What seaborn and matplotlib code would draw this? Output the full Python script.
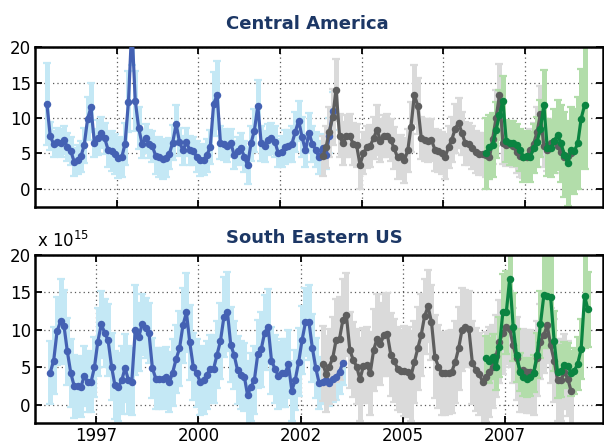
import numpy as np
import pandas as pd
import matplotlib
matplotlib.use("Agg")
import matplotlib.pyplot as plt
import seaborn as sns

# monthly HCHO columns (x 10^15)
ca_gome_start = "1996-04"
ca_gome = [12.0, 7.4, 6.3, 6.6, 6.5, 6.9, 5.9, 5.3, 3.8, 4.1,
           4.6, 6.1, 9.9, 11.5, 6.4, 7.2, 7.9, 7.1, 5.5, 5.3,
           4.9, 4.3, 4.5, 6.3, 12.3, 23.0, 12.4, 8.6, 6.3, 7.1,
           6.3, 6.0, 4.6, 4.5, 4.2, 4.3, 4.9, 6.5, 9.1, 6.6,
           5.4, 6.6, 5.4, 5.3, 4.5, 4.0, 4.1, 4.7, 5.9, 12.0,
           13.2, 6.5, 6.3, 6.0, 6.5, 4.7, 5.3, 5.7, 4.5, 3.3,
           6.4, 8.2, 11.7, 6.4, 6.0, 6.9, 7.1, 6.6, 5.0, 5.2,
           5.9, 6.0, 6.3, 8.0, 9.6, 7.3, 5.4, 7.9, 6.3, 5.5,
           4.4, 5.7, 4.8, 7.5, 11.0]
ca_gome_err = [5.8, 2.0, 1.8, 2.0, 2.0, 2.0, 2.0, 2.0, 2.0, 2.0,
               2.2, 2.5, 3.0, 3.5, 2.0, 2.5, 2.2, 2.2, 2.5, 2.8,
               2.8, 2.8, 2.8, 3.0, 4.3, 5.5, 4.3, 3.0, 2.0, 2.0,
               2.0, 2.2, 2.5, 2.8, 2.8, 2.6, 2.2, 2.5, 2.7, 2.0,
               2.0, 2.0, 2.0, 2.0, 2.2, 2.2, 2.2, 2.3, 2.4, 4.5,
               4.8, 2.3, 2.2, 2.2, 2.0, 2.0, 2.0, 2.2, 2.2, 2.6,
               2.5, 3.0, 3.6, 2.5, 2.2, 2.2, 2.2, 2.2, 2.0, 2.2,
               2.4, 2.3, 2.5, 2.8, 2.8, 2.8, 2.3, 2.8, 2.5, 2.5,
               2.3, 2.0, 2.0, 2.5, 2.7]

ca_scia_start = "2003-01"
ca_scia = [4.6, 5.9, 8.0, 10.1, 14.0, 7.5, 6.4, 7.4, 7.5, 6.3,
           6.1, 3.4, 5.0, 5.9, 6.0, 7.2, 8.3, 6.8, 7.4, 7.5,
           6.9, 5.7, 4.4, 4.6, 4.0, 5.4, 8.7, 13.3, 11.7, 7.2,
           6.9, 6.8, 6.9, 5.5, 5.3, 5.0, 4.5, 5.9, 6.9, 8.5,
           9.3, 7.8, 6.4, 6.3, 5.8, 5.2, 4.9, 4.9, 4.7, 4.4,
           7.0, 10.0, 13.2, 6.5, 6.2, 6.3, 6.0, 5.2, 4.6, 4.5,
           4.5, 5.5, 6.3, 8.0, 10.5, 6.0, 5.5, 6.4, 6.8, 6.0,
           5.2, 4.5, 4.6, 5.0]
ca_scia_err = [2.8, 3.0, 3.5, 4.0, 4.4, 3.0, 3.0, 3.0, 3.0, 3.0,
               3.0, 3.5, 3.0, 3.0, 3.0, 3.0, 3.5, 3.0, 3.0, 3.0,
               3.0, 3.0, 3.0, 3.0, 3.2, 3.0, 3.5, 4.2, 4.0, 3.0,
               3.0, 3.0, 3.0, 3.0, 3.0, 3.0, 3.2, 3.0, 3.2, 3.5,
               3.5, 3.0, 3.0, 3.0, 3.0, 3.0, 3.0, 3.0, 3.0, 3.0,
               3.5, 4.0, 4.5, 3.0, 3.0, 3.0, 3.0, 3.0, 3.0, 3.0,
               3.0, 3.0, 3.0, 3.5, 4.0, 3.0, 3.0, 3.0, 3.0, 3.0,
               3.0, 3.0, 3.0, 3.0]

ca_gome2_start = "2007-01"
ca_gome2 = [5.0, 5.9, 6.2, 8.3, 10.4, 12.4, 6.7, 6.4, 6.5, 6.2,
            5.5, 4.5, 4.6, 4.5, 5.7, 6.6, 8.5, 11.8, 5.8, 5.7,
            6.7, 7.6, 6.4, 4.8, 3.6, 5.5, 5.3, 6.4, 9.9, 11.8]
ca_gome2_err = [5.0, 4.5, 4.5, 4.0, 3.5, 3.5, 3.0, 3.0, 3.0, 3.0,
                3.0, 3.5, 3.5, 3.5, 3.5, 3.5, 4.0, 5.0, 4.0, 4.0,
                4.5, 5.0, 5.5, 6.0, 6.0, 6.0, 6.0, 6.5, 7.0, 9.0]

se_gome_start = "1996-05"
se_gome = [4.3, 5.9, 9.8, 11.1, 10.5, 7.1, 4.2, 2.5, 2.5, 2.4,
           3.8, 3.1, 3.0, 5.0, 8.4, 10.7, 9.6, 8.6, 5.1, 2.6,
           2.4, 3.3, 4.9, 3.3, 3.1, 10.0, 9.0, 10.7, 10.2, 9.6,
           4.9, 3.5, 3.5, 3.5, 3.7, 3.0, 4.3, 6.1, 7.5,
           10.6, 12.3, 8.3, 5.1, 4.2, 3.1, 3.3, 4.0, 4.8, 4.8,
           6.7, 8.5, 11.7, 12.4, 8.0, 6.6, 4.6, 4.0, 3.7, 1.3,
           2.4, 3.3, 6.8, 7.4, 9.6, 10.4, 5.9, 4.8, 3.9, 4.2,
           4.2, 5.4, 1.9, 3.3, 5.7, 8.6, 11.0, 11.0, 7.6,
           4.9, 2.9, 3.1, 3.3, 2.9, 3.4, 3.7, 4.4, 5.6]
se_gome_err = [4.2, 4.5, 4.5, 5.7, 4.8, 4.5, 4.5, 4.2, 4.0, 4.0,
               4.0, 4.0, 4.0, 4.0, 4.5, 4.5, 4.5, 4.8, 4.5, 4.5,
               4.5, 4.5, 4.5, 4.5, 4.5, 6.0, 4.5, 4.0, 4.0, 4.0,
               4.0, 4.0, 4.0, 4.0, 4.0, 4.0, 4.5, 4.5, 5.0,
               5.0, 5.3, 5.0, 4.5, 4.5, 4.5, 4.5, 4.5, 4.5, 4.5,
               4.5, 5.0, 5.3, 5.3, 5.0, 4.5, 4.5, 4.5, 4.5, 4.5,
               4.5, 4.5, 4.5, 5.0, 5.0, 5.0, 4.5, 4.5, 4.5, 4.5,
               4.5, 4.5, 4.0, 4.0, 4.5, 4.5, 4.5, 5.0, 4.5,
               4.0, 3.5, 3.0, 3.0, 3.0, 3.0, 3.0, 3.0, 3.0]

se_scia_start = "2003-01"
se_scia = [5.5, 4.1, 5.1, 6.2, 8.6, 8.8, 11.3, 12.0, 7.3, 6.0,
           5.1, 3.4, 5.2, 5.3, 4.2, 7.3, 8.8, 8.1, 9.3, 9.4,
           6.7, 5.9, 4.8, 4.5, 4.5, 4.4, 3.8, 5.7, 7.5, 9.3,
           11.8, 13.1, 11.0, 6.4, 5.1, 4.2, 4.2, 4.3, 4.4, 5.7,
           7.5, 10.0, 10.3, 10.1, 5.6, 4.7, 4.1, 3.1, 3.7, 4.4,
           5.1, 6.5, 8.4, 9.6, 10.4, 10.1, 7.9, 6.2, 4.5, 4.6,
           4.4, 4.4, 4.2, 6.2, 8.4, 9.3, 10.6, 7.9, 5.9, 3.3,
           3.3, 4.4, 3.5, 1.8]
se_scia_err = [5.0, 5.0, 5.0, 5.5, 5.5, 5.5, 5.5, 5.5, 5.0, 5.0,
               5.0, 5.5, 5.0, 5.0, 5.5, 5.5, 6.0, 5.5, 5.5, 5.5,
               5.5, 5.5, 5.5, 5.5, 6.0, 6.0, 6.0, 5.5, 5.5, 5.5,
               5.0, 4.8, 5.0, 5.5, 5.5, 5.5, 5.5, 5.5, 5.5, 5.5,
               5.5, 5.5, 5.0, 5.0, 5.5, 5.5, 5.5, 6.0, 6.0, 6.0,
               5.5, 5.5, 5.5, 5.5, 5.0, 5.0, 5.0, 5.5, 5.5, 5.5,
               5.5, 5.5, 5.5, 5.0, 5.0, 5.0, 5.0, 5.0, 5.5, 5.5,
               5.5, 5.0, 5.0, 5.0]

se_gome2_start = "2007-01"
se_gome2 = [6.2, 5.9, 6.4, 5.0, 7.7, 12.4, 12.3, 16.8, 10.4, 6.6,
            4.4, 3.7, 3.5, 3.7, 4.2, 6.6, 10.7, 14.6, 14.5, 14.3,
            8.5, 4.4, 4.5, 5.3, 5.2, 4.2, 4.5, 5.5, 7.4, 14.5, 12.7]
se_gome2_err = [3.0, 3.0, 3.0, 3.0, 4.0, 5.0, 5.5, 6.0, 4.5, 3.5,
                2.5, 2.5, 2.5, 2.5, 2.5, 3.0, 4.5, 7.0, 7.0, 6.5,
                4.0, 3.5, 3.5, 3.0, 3.0, 3.0, 3.0, 3.5, 4.0, 7.0, 5.0]

titles = ["Central America", "South Eastern US"]
xtick_top = [1998, 2000, 2002, 2004, 2006, 2008]
xtick_bottom = [1997.5, 2000, 2002.5, 2005, 2007.5]
xtick_bottom_labels = ["1997", "2000", "2002", "2005", "2007"]

colors = {
    "gome": ("#4461b3", "#c4e8f5"),
    "scia": ("#5e5e5e", "#dadada"),
    "gome2": ("#0b8441", "#b2ddaa"),
}


def decimal_years(start, n):
    dates = pd.date_range(start, periods=n, freq="MS") + pd.Timedelta(days=15)
    return dates.year + (dates.dayofyear - 1) / 365.25


sns.set_style("ticks")
plt.rcParams["font.family"] = ["DejaVu Sans"]
plt.rcParams["axes.edgecolor"] = "black"
plt.rcParams["xtick.color"] = "black"
plt.rcParams["ytick.color"] = "black"
plt.rcParams["text.color"] = "black"

fig = plt.figure(figsize=(6.04, 4.46), dpi=100)
ax_top = fig.add_axes([0.058, 0.536, 0.94, 0.358])
ax_bot = fig.add_axes([0.058, 0.052, 0.94, 0.377])

panels = [
    (ax_top, [("gome", ca_gome_start, ca_gome, ca_gome_err),
              ("scia", ca_scia_start, ca_scia, ca_scia_err),
              ("gome2", ca_gome2_start, ca_gome2, ca_gome2_err)], (-2.6, 20)),
    (ax_bot, [("gome", se_gome_start, se_gome, se_gome_err),
              ("scia", se_scia_start, se_scia, se_scia_err),
              ("gome2", se_gome2_start, se_gome2, se_gome2_err)], (-2.4, 20)),
]

for ax, series, ylim in panels:
    for key, start, vals, errs in series:
        t = decimal_years(start, len(vals))
        ax.errorbar(t, vals, yerr=errs, fmt="none", ecolor=colors[key][1],
                    elinewidth=3.6, capsize=2.8, capthick=1.6, zorder=1)
    for key, start, vals, errs in series:
        t = decimal_years(start, len(vals))
        sns.lineplot(x=np.asarray(t), y=vals, ax=ax, color=colors[key][0],
                     linewidth=2.3, marker="o", markersize=5.4,
                     markeredgewidth=0, zorder=3)
    ax.set_xlim(1996, 2009.9)
    ax.set_ylim(*ylim)
    ax.set_yticks([0, 5, 10, 15, 20])
    ax.grid(True, linestyle=(0, (1, 2.5)), color="0.35", linewidth=0.9)
    ax.set_axisbelow(True)
    ax.tick_params(direction="in", length=5, width=1.3, top=True, right=True,
                   labelsize=12, pad=3, colors="black")
    for sp in ax.spines.values():
        sp.set_linewidth(1.8)
        sp.set_color("black")
    ax.set_xlabel("")
    ax.set_ylabel("")

ax_top.set_xticks(xtick_top)
ax_top.set_xticklabels([])
ax_bot.set_xticks(xtick_bottom)
ax_bot.set_xticklabels(xtick_bottom_labels)
ax_bot.tick_params(axis="x", pad=3)

ax_bot.text(0.003, 1.02, r"x 10$^{15}$", transform=ax_bot.transAxes,
            fontsize=12, va="bottom", ha="left")

fig.text(0.509, 0.946, titles[0], ha="center", va="center", fontsize=13,
         fontweight="bold", color="#1c3765")
fig.text(0.52, 0.466, titles[1], ha="center", va="center", fontsize=13,
         fontweight="bold", color="#1c3765")

fig.savefig("out.png", dpi=100)
